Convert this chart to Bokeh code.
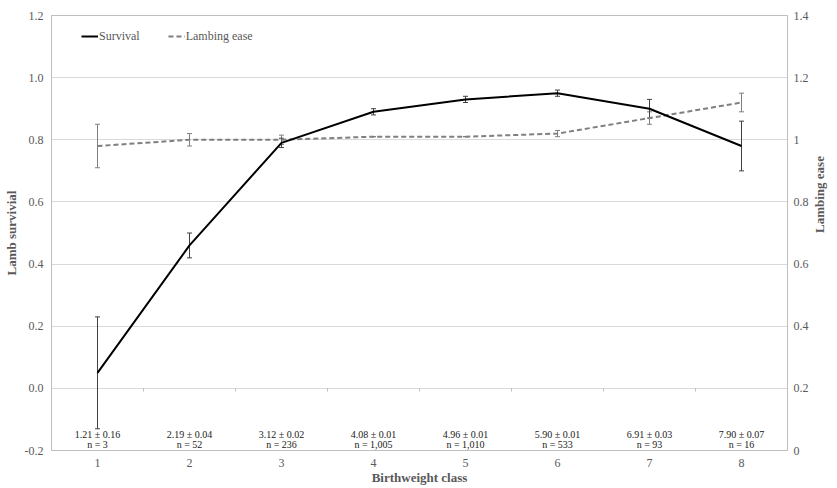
from bokeh.plotting import figure
from bokeh.models import (Range1d, LinearAxis, FixedTicker, NumeralTickFormatter,
                          ColumnDataSource, Whisker, TeeHead, Legend, LegendItem)
from bokeh.core.properties import value
from bokeh.embed import file_html
from bokeh.resources import INLINE
import math

# ---- data ----
classes = [1, 2, 3, 4, 5, 6, 7, 8]
survival = [0.05, 0.46, 0.79, 0.89, 0.93, 0.95, 0.90, 0.78]
survival_err = [0.18, 0.04, 0.015, 0.01, 0.01, 0.01, 0.03, 0.08]
lambing_ease = [0.98, 1.00, 1.00, 1.01, 1.01, 1.02, 1.07, 1.12]
lambing_err = [0.07, 0.02, 0.015, 0.0, 0.0, 0.01, 0.02, 0.03]
bw_mean = ["1.21", "2.19", "3.12", "4.08", "4.96", "5.90", "6.91", "7.90"]
bw_se = ["0.16", "0.04", "0.02", "0.01", "0.01", "0.01", "0.03", "0.07"]
n_lambs = ["3", "52", "236", "1,005", "1,010", "533", "93", "16"]
left_ticks = [-0.2, 0.0, 0.2, 0.4, 0.6, 0.8, 1.0, 1.2]
right_ticks = [0, 0.2, 0.4, 0.6, 0.8, 1.0, 1.2, 1.4]

FONT = "Liberation Serif"
GREY_TXT = "#595959"
AXIS_GREY = "#bfbfbf"
GRID = "#d9d9d9"

p = figure(width=837, height=488, output_backend="svg", toolbar_location=None,
           x_range=Range1d(0.5, 8.5), y_range=Range1d(-0.2, 1.2),
           min_border_left=0, min_border_right=37, min_border_top=15, min_border_bottom=38)
p.extra_y_ranges = {"right": Range1d(0, 1.4)}
p.outline_line_color = AXIS_GREY
p.background_fill_color = "white"
p.border_fill_color = "white"

def style_axis(ax):
    ax.major_tick_line_color = None
    ax.minor_tick_line_color = None
    ax.major_tick_out = 0
    ax.major_tick_in = 0
    ax.minor_tick_out = 0
    ax.minor_tick_in = 0
    ax.axis_line_color = AXIS_GREY
    ax.major_label_text_font = FONT
    ax.major_label_text_font_size = "12px"
    ax.major_label_text_color = GREY_TXT
    ax.axis_label_text_font = FONT
    ax.axis_label_text_font_size = "13px"
    ax.axis_label_text_font_style = "bold"
    ax.axis_label_text_color = GREY_TXT

xa = p.xaxis[0]
xa.ticker = FixedTicker(ticks=classes)
xa.axis_label = "Birthweight class"
style_axis(xa)
xa.major_label_standoff = 8
xa.axis_label_standoff = 0

ya = p.yaxis[0]
ya.ticker = FixedTicker(ticks=left_ticks)
ya.formatter = NumeralTickFormatter(format="0.0")
ya.axis_label = "Lamb survivial"
style_axis(ya)
ya.major_label_standoff = 8
ya.axis_label_standoff = 3

ra = LinearAxis(y_range_name="right", ticker=FixedTicker(ticks=right_ticks),
                formatter=NumeralTickFormatter(format="0.[0]"), axis_label="Lambing ease")
style_axis(ra)
ra.major_label_standoff = 6
ra.axis_label_standoff = 8
ra.axis_label_orientation = math.pi / 2
p.add_layout(ra, "right")

p.xgrid.grid_line_color = None
p.ygrid.grid_line_color = GRID
p.ygrid.ticker = FixedTicker(ticks=left_ticks)

# small category separator ticks on the zero line
seps = [c + 0.5 for c in classes[:-1]]
p.segment(x0=seps, x1=seps, y0=[0.0] * len(seps), y1=[-0.01] * len(seps),
          line_color=AXIS_GREY, line_width=1)

src = ColumnDataSource(dict(
    x=classes,
    s=survival,
    s_up=[v + e for v, e in zip(survival, survival_err)],
    s_lo=[v - e for v, e in zip(survival, survival_err)],
    l=lambing_ease,
    l_up=[v + e for v, e in zip(lambing_ease, lambing_err)],
    l_lo=[v - e for v, e in zip(lambing_ease, lambing_err)],
))

l_line = p.line("x", "l", source=src, y_range_name="right", line_color="#7f7f7f",
                line_width=2, line_dash="5 3")
s_line = p.line("x", "s", source=src, line_color="black", line_width=2)

wl = Whisker(base="x", upper="l_up", lower="l_lo", source=src, y_range_name="right",
             line_color="#7f7f7f", line_width=1,
             upper_head=TeeHead(size=5, line_color="#7f7f7f", line_width=1),
             lower_head=TeeHead(size=5, line_color="#7f7f7f", line_width=1))
ws = Whisker(base="x", upper="s_up", lower="s_lo", source=src,
             line_color="#404040", line_width=1,
             upper_head=TeeHead(size=5, line_color="#404040", line_width=1),
             lower_head=TeeHead(size=5, line_color="#404040", line_width=1))
p.add_layout(wl)
p.add_layout(ws)

# annotations of birthweight mean and n
line1 = [f"{m} \u00b1 {s}" for m, s in zip(bw_mean, bw_se)]
line2 = [f"n = {n}" for n in n_lambs]
ysrc = ColumnDataSource(dict(x=classes, y=[-0.2] * len(classes), t1=line1, t2=line2))
p.text("x", "y", text="t1", source=ysrc, y_offset=-16, text_align="center",
       text_baseline="middle", text_font=value(FONT), text_font_size="10px",
       text_color="#1a1a1a")
p.text("x", "y", text="t2", source=ysrc, y_offset=-6, text_align="center",
       text_baseline="middle", text_font=value(FONT), text_font_size="10px",
       text_color="#1a1a1a")

legend = Legend(items=[LegendItem(label="Survival", renderers=[s_line]),
                       LegendItem(label="Lambing ease", renderers=[l_line])],
                orientation="horizontal", location=(30, 404))
legend.margin = 0
legend.padding = 0
legend.spacing = 28
legend.glyph_width = 17
legend.label_standoff = 1
legend.label_text_font = FONT
legend.label_text_font_size = "12px"
legend.label_text_color = GREY_TXT
legend.border_line_color = None
legend.background_fill_alpha = 0
p.add_layout(legend)

open("out.html", "w").write(file_html(p, INLINE))
